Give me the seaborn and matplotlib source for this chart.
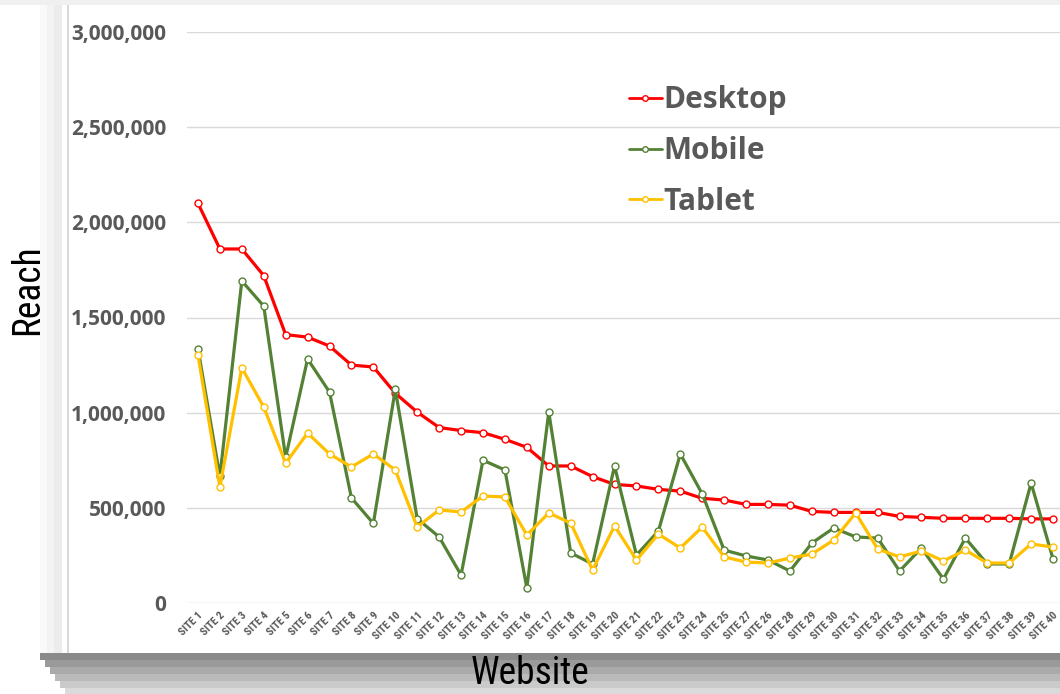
import matplotlib.pyplot as plt
import numpy as np
import pandas as pd
import seaborn as sns
from matplotlib.patches import Rectangle
from matplotlib.ticker import FuncFormatter

# Data
sites = [f"SITE {i}" for i in range(1, 26)] + ["SITE 27", "SITE 26"] + [
    f"SITE {i}" for i in range(28, 41)
]

desktop = [2100000, 1860000, 1860000, 1720000, 1410000, 1397000, 1350000, 1250000,
           1240000, 1102000, 1003000, 922000, 906000, 895000, 860000, 818000,
           720000, 720000, 664000, 623000, 615000, 597000, 588000, 550000,
           541000, 518000, 518000, 514000, 481000, 476000, 476000, 476000,
           455000, 450000, 445000, 445000, 445000, 445000, 442000, 442000]

mobile = [1337000, 665000, 1692000, 1560000, 765000, 1282000, 1108000, 552000,
          418000, 1122000, 443000, 347000, 147000, 750000, 699000, 79000,
          1003000, 263000, 205000, 720000, 252000, 378000, 783000, 573000,
          278000, 247000, 226000, 168000, 315000, 394000, 347000, 341000,
          168000, 289000, 126000, 341000, 205000, 205000, 630000, 231000]

tablet = [1303000, 609000, 1235000, 1030000, 735000, 893000, 783000, 715000,
          783000, 699000, 399000, 489000, 478000, 562000, 557000, 357000,
          473000, 420000, 173000, 405000, 226000, 362000, 289000, 399000,
          242000, 215000, 210000, 236000, 257000, 331000, 473000, 284000,
          242000, 273000, 221000, 278000, 210000, 210000, 310000, 294000]

devices = ["Desktop", "Mobile", "Tablet"]
colors = {"Desktop": "#FF0000", "Mobile": "#548235", "Tablet": "#FFC000"}
y_ticks = [0, 500000, 1000000, 1500000, 2000000, 2500000, 3000000]

df = pd.DataFrame({
    "Website": sites * 3,
    "Reach": desktop + mobile + tablet,
    "Device": np.repeat(devices, len(sites)),
})

sns.set_theme(style="white")
plt.rcParams["font.family"] = ["Open Sans", "DejaVu Sans"]
GRAY = "#595959"
NARROW = ["Roboto Condensed", "Liberation Sans Narrow", "DejaVu Sans"]

W, H = 1060, 694
fig = plt.figure(figsize=(W / 100, H / 100), dpi=100)
fig.patch.set_facecolor("white")


def fig_rect(x0, y0, x1, y1, color):
    # pixel coords from top-left -> figure fraction
    fig.patches.append(Rectangle((x0 / W, 1 - y1 / H), (x1 - x0) / W, (y1 - y0) / H,
                                 transform=fig.transFigure, facecolor=color,
                                 edgecolor="none", zorder=-10))


# drop shadow under/left of the chart panel
shades = ["#8a8a8a", "#9a9a9a", "#aaaaaa", "#bababa", "#cacaca", "#dadada"]
for i, c in enumerate(shades):
    fig_rect(40 + i * 5, 653 + i * 7, W, 660 + i * 7, c)
for i, c in enumerate(["#f9f9f9", "#f3f3f3", "#ececec"]):
    fig_rect(40 + i * 7, 0, 62, 653, c)
fig_rect(0, 0, W, 5, "#f0f0f0")
fig_rect(62, 5, W, 653, "white")
fig_rect(67, 5, 68.5, 653, "#d9d9d9")

ax = fig.add_axes([187 / W, 1 - 603 / H, 877 / W, 571 / H])
ax.set_zorder(5)
ax.set_facecolor("none")

sns.lineplot(data=df, x="Website", y="Reach", hue="Device", style="Device",
             palette=colors, hue_order=devices, style_order=devices,
             markers={d: "o" for d in devices}, dashes=False, sort=False,
             linewidth=2.3, markersize=5, markerfacecolor="white",
             markeredgewidth=1, ax=ax, zorder=3)
# seaborn defaults marker edges to white; give them the line colour
for line in ax.get_lines():
    line.set_markeredgecolor(line.get_color())

ax.set_xlim(-0.5, len(sites) - 0.5)
ax.set_ylim(0, 3000000)
ax.set_yticks(y_ticks)
ax.yaxis.set_major_formatter(FuncFormatter(lambda v, p: f"{int(v):,}"))
ax.grid(axis="y", color="#d9d9d9", linewidth=1)
ax.grid(axis="x", visible=False)
for s in ax.spines.values():
    s.set_visible(False)

ax.tick_params(axis="y", length=0, pad=15, labelsize=15, labelcolor=GRAY)
for lab in ax.get_yticklabels():
    lab.set_fontweight("bold")
ax.set_xticks(range(len(sites)))
ax.set_xticklabels(sites, rotation=45, ha="right", rotation_mode="anchor",
                   fontsize=8, fontweight="bold", color=GRAY,
                   family=NARROW)
ax.tick_params(axis="x", length=0, pad=5)

ax.set_xlabel("")
ax.set_ylabel("")
fig.text(28 / W, 1 - 290 / H, "Reach", rotation=90, ha="center", va="center",
         fontsize=27, family=NARROW, color="black")
fig.text(530 / W, 1 - 674 / H, "Website", ha="center", va="center",
         fontsize=27, family=NARROW, color="black")

handles, labels = ax.get_legend_handles_labels()
leg = ax.legend(handles, labels, loc="upper left", bbox_to_anchor=(0.49, 0.928),
                frameon=False, fontsize=21.5, handlelength=1.1, handletextpad=0.05,
                labelspacing=0.7, borderaxespad=0)
for t in leg.get_texts():
    t.set_color(GRAY)
    t.set_fontweight("bold")
for h in leg.legend_handles:
    h.set_linewidth(2)
    h.set_markersize(4)
    h.set_markerfacecolor("white")
    h.set_markeredgecolor(h.get_color())

fig.savefig("out.png", dpi=100)
